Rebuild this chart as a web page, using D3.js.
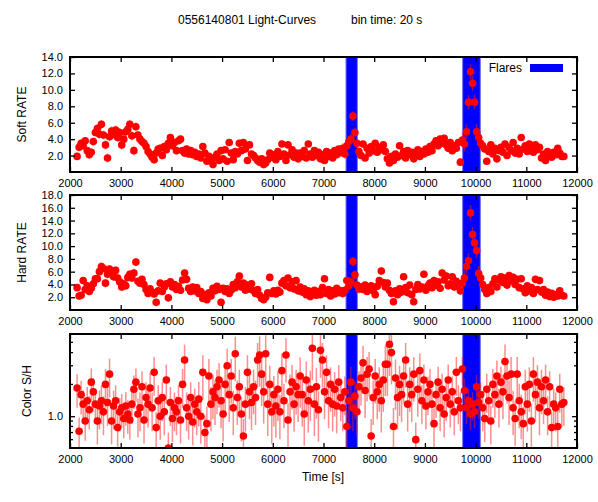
<!DOCTYPE html>
<html><head><meta charset="utf-8">
<script src="https://cdn.jsdelivr.net/npm/d3@7"></script>
<style>
body{margin:0;background:#fff}
text{font-family:"Liberation Sans",Arial,Helvetica,sans-serif;fill:#000}
</style>
</head><body>
<svg id="c" width="598" height="502"></svg>
<script>
// ---- data (40 s sampling of the 20 s binned light curve) ----
const tStart = 2140, tStep = 40;
const soft = [
1.9,3.0,3.5,3.2,3.8,2.6,2.1,2.4,3.7,4.8,
5.3,4.6,5.8,4.5,3.3,1.7,4.3,5.0,4.6,5.1,
4.2,4.8,3.3,4.0,4.9,5.2,5.8,4.4,2.6,5.5,
4.5,4.0,3.7,3.5,3.1,2.5,2.2,1.8,1.5,2.3,
2.8,2.9,2.0,3.1,2.7,3.5,4.2,3.2,3.6,2.6,
3.8,4.0,2.6,2.3,2.8,2.2,2.6,2.1,2.4,1.9,
2.2,1.7,3.1,2.3,1.3,1.9,1.5,0.9,1.8,2.2,
1.4,2.6,1.6,2.7,1.3,3.6,2.3,1.5,2.5,2.2,
3.5,2.6,3.6,2.8,1.4,3.3,2.2,2.0,1.7,1.4,
1.2,1.6,0.9,1.1,1.5,2.3,1.8,2.1,1.5,2.5,
1.9,3.4,2.2,1.4,3.3,2.1,2.7,1.8,2.3,1.6,
2.3,1.9,2.6,1.7,3.4,2.2,1.8,2.6,2.0,2.4,
1.6,2.1,1.4,2.5,1.9,2.3,1.7,2.6,2.1,2.8,
2.4,2.9,2.2,3.2,3.7,4.0,6.8,4.8,3.5,2.5,
2.0,3.4,1.7,2.9,2.3,3.1,2.6,3.5,2.4,3.0,
2.7,3.3,2.5,1.6,1.1,1.9,1.4,2.2,1.8,3.2,
2.0,2.5,1.7,2.6,2.1,2.4,1.6,2.2,2.7,1.9,
2.5,2.2,2.8,2.4,3.1,2.6,3.4,3.8,3.2,4.0,
3.5,4.1,3.3,2.9,3.6,2.6,3.2,2.9,3.6,1.2,
3.9,3.4,4.9,8.5,12.2,10.8,8.5,4.9,4.2,3.5,
3.2,2.8,1.3,2.5,3.3,2.2,2.9,1.6,2.6,3.0,
2.4,3.4,2.0,3.0,2.6,3.6,2.3,2.9,2.2,4.2,
2.8,3.2,2.5,3.4,2.9,2.4,3.3,2.7,3.0,1.7,
2.2,1.4,2.5,2.0,1.8,2.4,2.1,2.9,2.3,1.9,
1.9];
const hard = [
3.5,2.2,2.3,4.6,3.2,3.8,2.9,3.4,4.1,4.9,
4.9,6.0,6.8,6.5,4.2,5.6,6.4,5.8,5.2,6.2,
5.0,4.4,3.6,4.1,3.8,5.1,5.6,5.0,5.8,7.5,
4.5,4.2,4.8,4.0,3.2,2.6,3.3,2.8,2.5,1.2,
3.0,4.2,2.9,3.6,4.1,1.9,4.4,3.6,4.0,3.2,
3.7,3.1,4.7,5.8,4.8,3.4,2.9,3.6,3.0,3.5,
2.6,2.9,1.8,2.4,1.6,2.7,2.2,3.4,3.0,3.7,
3.2,1.2,3.4,2.9,3.3,2.6,3.1,4.0,3.5,4.4,
5.3,3.6,4.2,3.1,3.9,3.3,4.1,3.0,2.6,3.2,
2.3,1.8,1.6,2.0,2.7,5.1,2.6,3.0,2.5,3.1,
2.8,4.2,4.6,3.8,5.0,3.5,4.4,3.3,4.6,3.0,
3.6,2.8,3.3,2.4,3.0,2.1,2.7,3.1,2.3,2.9,
2.4,3.5,4.9,2.6,3.2,2.2,3.0,2.5,3.4,2.7,
3.0,2.6,3.1,4.6,3.8,4.4,7.6,5.5,3.9,3.3,
3.6,3.2,3.9,2.9,3.5,3.8,3.0,2.4,3.7,4.6,
6.1,4.3,3.6,4.2,3.1,2.6,1.3,3.0,2.4,3.3,
2.8,5.2,3.5,2.7,3.9,2.4,1.3,3.2,4.0,3.3,
3.6,5.6,3.1,3.8,4.2,3.5,4.6,3.9,4.4,3.4,
5.8,4.7,5.3,3.8,4.1,5.2,3.6,4.5,4.0,3.0,
4.2,5.0,6.8,7.7,15.2,11.8,10.5,9.3,5.7,5.0,
4.0,3.2,2.6,3.5,2.9,4.1,4.9,3.6,4.7,5.2,
4.3,5.0,3.9,5.4,4.6,5.1,4.0,4.8,3.5,4.9,
3.3,2.7,3.8,3.0,3.5,2.6,4.8,3.2,4.6,2.8,
3.2,2.3,2.8,2.1,2.6,2.0,2.4,2.2,3.0,2.3,
2.2];
const color = [
1.85,0.72,1.6,1.3,0.9,1.4,1.15,2.1,1.7,1.3,
0.9,1.25,1.4,1.1,2.0,1.35,2.5,0.9,1.25,1.4,
0.78,1.1,1.2,0.95,1.25,1.05,0.92,1.3,1.8,2.1,
1.05,1.2,1.9,0.92,1.5,1.3,1.85,1.2,2.6,0.78,
1.4,1.0,1.5,1.1,2.2,0.5,1.35,0.95,1.2,1.1,
1.4,0.92,2.0,3.4,1.2,1.0,1.5,0.88,1.3,1.1,
1.45,1.0,2.6,0.7,0.85,2.4,1.3,1.7,1.5,1.9,
2.2,1.4,1.05,2.0,3.0,1.6,2.4,1.2,3.9,1.5,
1.9,1.05,0.65,1.3,2.6,1.7,1.35,1.9,1.5,3.4,
3.8,2.5,1.7,3.9,1.3,2.0,1.1,1.6,1.25,1.8,
1.1,2.7,1.4,3.8,0.92,1.7,2.1,1.3,1.9,1.6,
2.4,1.6,1.05,2.2,1.4,1.8,4.4,1.3,1.9,1.15,
4.2,3.4,1.7,2.6,1.4,2.0,1.3,1.8,1.25,2.1,
1.5,1.2,1.7,0.8,1.4,2.1,1.2,1.55,1.1,1.9,
2.3,3.2,1.75,2.5,2.8,0.65,1.5,2.4,1.7,2.0,
1.4,2.2,3.1,3.1,4.8,4.0,0.8,2.3,1.5,2.0,
1.6,2.4,3.4,1.3,2.0,1.6,2.5,0.6,1.8,2.7,
1.4,2.2,1.25,1.7,2.0,1.3,0.85,1.6,2.1,1.2,
1.8,1.05,1.5,2.2,1.3,1.7,1.1,2.6,1.4,1.2,
2.8,1.75,1.2,1.4,1.05,1.3,1.1,1.9,1.35,1.6,
1.2,0.95,1.8,1.4,0.9,2.0,1.6,2.4,1.3,2.1,
1.7,3.3,2.4,1.5,2.5,1.2,0.95,2.5,1.4,1.1,
0.85,1.9,1.3,2.0,0.9,2.5,1.6,2.1,1.2,1.9,
1.4,2.2,1.1,1.9,0.78,1.3,1.2,0.8,1.8,1.3,
1.35];
// typical 1-sigma errors per 400 s segment
const softErr  = [0.45,0.55,0.55,0.45,0.45,0.4,0.35,0.35,0.4,0.35,0.4,0.35,0.35,0.6,0.4,0.35,0.35,0.45,0.45,0.9,0.4,0.4,0.4,0.35,0.35];
const hardErr  = [0.55,0.65,0.65,0.55,0.55,0.55,0.5,0.5,0.55,0.5,0.55,0.5,0.5,0.7,0.55,0.55,0.5,0.6,0.6,1.2,0.6,0.6,0.55,0.5,0.5];
const colorRelErr = [0.35,0.4,0.35,0.4,0.4,0.4,0.45,0.45,0.45,0.5,0.45,0.5,0.45,0.4,0.45,0.5,0.45,0.4,0.4,0.3,0.4,0.45,0.45,0.4,0.4];
const flareStarts = [7444, 9745];
const flareEnds   = [7667, 10093];
const xTicks = [2000,3000,4000,5000,6000,7000,8000,9000,10000,11000,12000];
const softTicks = [2,4,6,8,10,12,14];
const hardTicks = [2,4,6,8,10,12,14,16,18];
const colorMajor = [1];
const colorMinor = [0.5,0.6,0.7,0.8,0.9,2,3,4,5,6];
const titleMain = "0556140801 Light-Curves";
const titleBin = "bin time: 20 s";

// ---- layout ----
const svg = d3.select("#c");
const L = 70, R = 577;
const panels = [
  {top:57, bot:172, label:"Soft RATE", lx:22},
  {top:195, bot:310, label:"Hard RATE", lx:22},
  {top:334, bot:448, label:"Color S/H", lx:27}
];
const x = d3.scaleLinear().domain([2000,12000]).range([L,R]);
const ySoft = d3.scaleLinear().domain([0,14]).range([panels[0].bot, panels[0].top]);
const yHard = d3.scaleLinear().domain([0,18]).range([panels[1].bot, panels[1].top]);
const yCol = d3.scaleLog().domain([0.5,6]).range([panels[2].bot, panels[2].top]);

const times = soft.map((_, i) => tStart + i * tStep);
const FS = 11;

svg.append("text").attr("x",178).attr("y",24).style("font-size","12px").text(titleMain);
svg.append("text").attr("x",351).attr("y",24).style("font-size","12px").text(titleBin);

function drawPanel(idx, y, vals, errLo, errHi, yticks, yfmt, minor) {
  const p = panels[idx];
  const g = svg.append("g");
  const cid = "clip" + idx;
  svg.append("clipPath").attr("id", cid).append("rect")
    .attr("x", L).attr("y", p.top).attr("width", R - L).attr("height", p.bot - p.top);
  const plot = g.append("g").attr("clip-path", `url(#${cid})`);
  // flare bands
  plot.selectAll("rect.flare").data(flareStarts).join("rect").attr("class","flare")
    .attr("x", (d) => x(d)).attr("width", (d, i) => x(flareEnds[i]) - x(d))
    .attr("y", p.top).attr("height", p.bot - p.top)
    .attr("fill", "#0000ff").attr("stroke","#7070ff").attr("stroke-width",1);
  // error bars
  plot.selectAll("line.err").data(vals).join("line").attr("class","err")
    .attr("x1", (d, i) => x(times[i])).attr("x2", (d, i) => x(times[i]))
    .attr("y1", (d, i) => y(errLo(d, i))).attr("y2", (d, i) => y(errHi(d, i)))
    .attr("stroke", "rgba(255,30,30,0.5)").attr("stroke-width", 1.5);
  // points
  plot.selectAll("circle").data(vals).join("circle")
    .attr("cx", (d, i) => x(times[i])).attr("cy", (d) => y(d))
    .attr("r", 3.8).attr("fill", "#ff0000");
  // axes
  const axL = d3.axisLeft(y).tickValues(yticks).tickFormat(yfmt).tickSize(-5).tickPadding(7);
  const axR = d3.axisRight(y).tickValues(yticks).tickFormat("").tickSize(-5);
  const axB = d3.axisBottom(x).tickValues(xTicks).tickFormat(d3.format("d")).tickSize(-5).tickPadding(7);
  const axT = d3.axisTop(x).tickValues(xTicks).tickFormat("").tickSize(-5);
  const gl = g.append("g").attr("transform", `translate(${L},0)`).call(axL);
  const gr = g.append("g").attr("transform", `translate(${R},0)`).call(axR);
  const gb = g.append("g").attr("transform", `translate(0,${p.bot})`).call(axB);
  const gt = g.append("g").attr("transform", `translate(0,${p.top})`).call(axT);
  [gl, gr, gb, gt].forEach(a => {
    a.select(".domain").remove();
    a.selectAll("line").attr("stroke", "#000").attr("stroke-width", 1.3);
    a.selectAll("text").style("font-size", FS + "px").attr("fill", "#000").style("font-family", '"Liberation Sans",Arial,sans-serif');
  });
  if (minor) {
    const mg = g.append("g");
    mg.selectAll("line.ml").data(minor).join("line")
      .attr("x1", L).attr("x2", L + 3).attr("y1", d => y(d)).attr("y2", d => y(d))
      .attr("stroke", "#000").attr("stroke-width", 1.3);
    mg.selectAll("line.mr").data(minor).join("line")
      .attr("x1", R).attr("x2", R - 3).attr("y1", d => y(d)).attr("y2", d => y(d))
      .attr("stroke", "#000").attr("stroke-width", 1.3);
  }
  // frame
  g.append("rect").attr("x", L).attr("y", p.top).attr("width", R - L).attr("height", p.bot - p.top)
    .attr("fill", "none").attr("stroke", "#000").attr("stroke-width", 2);
  // y label
  svg.append("text").attr("transform", `translate(${p.lx},${(p.top + p.bot) / 2}) rotate(-90)`)
    .attr("text-anchor", "middle").attr("dy", "0.35em").style("font-size", "12px").text(p.label);
  return g;
}

const g0 = drawPanel(0, ySoft, soft,
  (d, i) => d - softErr[Math.floor(i / 10)], (d, i) => d + softErr[Math.floor(i / 10)],
  softTicks, d3.format(".1f"), null);
drawPanel(1, yHard, hard,
  (d, i) => d - hardErr[Math.floor(i / 10)], (d, i) => d + hardErr[Math.floor(i / 10)],
  hardTicks, d3.format(".1f"), null);
drawPanel(2, yCol, color,
  (d, i) => Math.max(d * (1 - colorRelErr[Math.floor(i / 10)]), 0.3), (d, i) => d * (1 + colorRelErr[Math.floor(i / 10)]),
  colorMajor, d3.format(".1f"), colorMinor);

// legend
g0.append("text").attr("x", 522).attr("y", 68).attr("dy", "0.35em").attr("text-anchor", "end")
  .style("font-size", "12px").text("Flares");
g0.append("rect").attr("x", 530).attr("y", 64).attr("width", 33).attr("height", 8).attr("fill", "#0000ff");

svg.append("text").attr("x", 323).attr("y", 481).attr("text-anchor", "middle").style("font-size", "12px").text("Time [s]");
</script>
</body></html>
